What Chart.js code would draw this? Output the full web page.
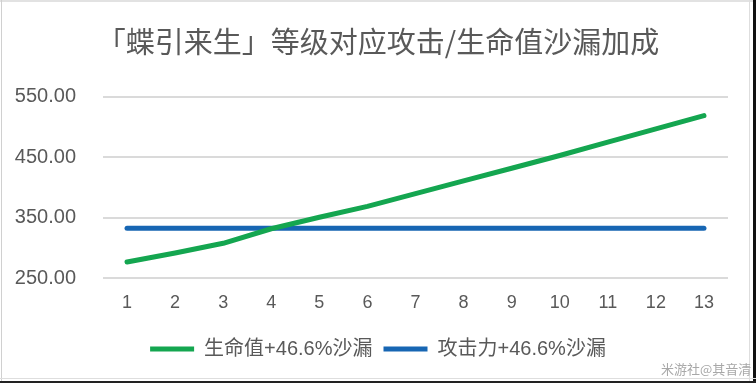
<!DOCTYPE html>
<html>
<head>
<meta charset="utf-8">
<script src="https://cdn.jsdelivr.net/npm/chart.js@4/dist/chart.umd.min.js"></script>
<style>
  html, body { margin: 0; padding: 0; background: #fff; }
  #wrap { position: relative; width: 756px; height: 383px; overflow: hidden; background: #fff; }
  #c { position: absolute; left: 0; top: 0; }
  .edge { position: absolute; }
  #wm { position: absolute; left: 661px; top: 359px; font: 13px "Noto Sans CJK SC", sans-serif; color: #a8a8a8; white-space: nowrap; }
</style>
</head>
<body>
<div id="wrap">
  <canvas id="c" width="756" height="383"></canvas>
  <div class="edge" style="left:0;top:0;width:756px;height:2px;background:#e2e2e2"></div>
  <div class="edge" style="left:1px;top:0;width:1px;height:383px;background:#d0d0d0"></div>
  <div class="edge" style="left:749px;top:0;width:1px;height:383px;background:#dedede"></div>
  <div class="edge" style="left:753px;top:0;width:3px;height:383px;background:#111"></div>
  <div class="edge" style="left:0;top:378px;width:756px;height:1px;background:#dedede"></div>
  <div class="edge" style="left:0;top:381px;width:756px;height:2px;background:#222"></div>
  <div id="wm">米游社@其音清</div>
</div>
<script>
const titleText = "「蝶引来生」等级对应攻击/生命值沙漏加成";
const levels = ["1","2","3","4","5","6","7","8","9","10","11","12","13"];
const hpLabel = "生命值+46.6%沙漏";
const atkLabel = "攻击力+46.6%沙漏";
const hpValues = [277, 292, 308, 332, 351, 369, 390, 411, 432, 453, 475, 497, 519];
const atkValues = [333, 333, 333, 333, 333, 333, 333, 333, 333, 333, 333, 333, 333];
const yMin = 250, yMax = 550, yStep = 100;

const GREEN = '#14a650';
const BLUE = '#1766b3';
const TXT = '#595959';

new Chart(document.getElementById('c'), {
  type: 'line',
  data: {
    labels: levels,
    datasets: [
      { label: hpLabel, data: hpValues, borderColor: GREEN, backgroundColor: GREEN,
        borderWidth: 5, pointRadius: 0, tension: 0, borderCapStyle: 'round', borderJoinStyle: 'round' },
      { label: atkLabel, data: atkValues, borderColor: BLUE, backgroundColor: BLUE,
        borderWidth: 5, pointRadius: 0, tension: 0, borderCapStyle: 'round', borderJoinStyle: 'round' }
    ]
  },
  options: {
    responsive: false,
    animation: false,
    layout: { padding: { left: 0, right: 0, top: 0, bottom: 14 } },
    plugins: {
      title: {
        display: true, text: titleText, color: TXT,
        font: { family: '"Noto Sans CJK SC", sans-serif', size: 29, weight: 'normal', lineHeight: 1.2 },
        padding: { top: 25, bottom: 37 }
      },
      legend: {
        position: 'bottom',
        labels: {
          usePointStyle: true, pointStyle: 'line', pointStyleWidth: 44,
          color: TXT, padding: 11,
          font: { family: '"Liberation Sans", "Noto Sans CJK SC", sans-serif', size: 20 }
        }
      },
      tooltip: { enabled: false }
    },
    scales: {
      x: {
        offset: true,
        grid: { display: false, drawTicks: false },
        border: { display: false },
        ticks: { color: TXT, padding: 14, font: { family: '"Liberation Sans", sans-serif', size: 18 } }
      },
      y: {
        min: yMin, max: yMax,
        grid: { color: '#dadada', lineWidth: 2, drawTicks: false },
        border: { display: false },
        afterFit: (s) => { s.width = 103; },
        ticks: {
          stepSize: yStep, color: TXT, padding: 27,
          font: { family: '"Liberation Sans", sans-serif', size: 20 },
          callback: (v) => Number(v).toFixed(2)
        }
      },
      spacer: {
        position: 'right', type: 'linear', display: true,
        grid: { display: false, drawTicks: false },
        border: { display: false },
        ticks: { display: false },
        afterFit: (s) => { s.width = 28; }
      }
    }
  }
});
</script>
</body>
</html>
